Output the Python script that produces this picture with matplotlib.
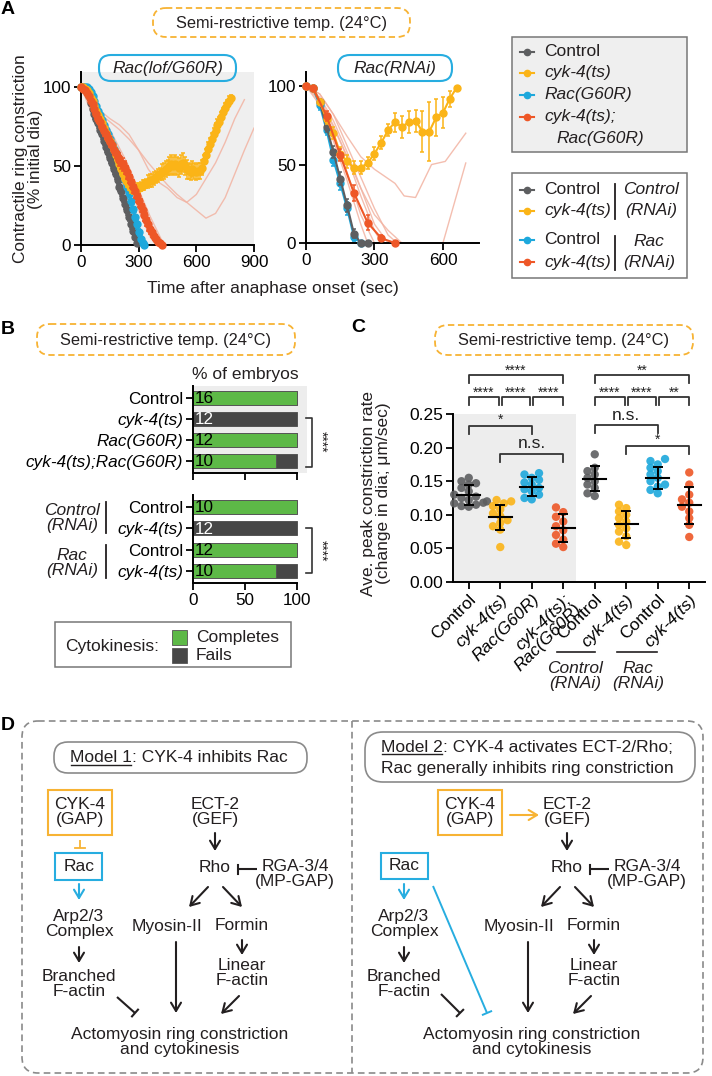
import numpy as np
import matplotlib
matplotlib.use('Agg')
import matplotlib.pyplot as plt
from matplotlib.patches import FancyBboxPatch, Rectangle

plt.rcParams['font.family'] = ['Liberation Sans', 'DejaVu Sans']
plt.rcParams['font.size'] = 12
plt.rcParams['axes.linewidth'] = 1.4

# ------------------------------------------------------------------ DATA
# Panel A, left: Rac(lof/G60R)  (time in s, % initial diameter)
tA_ctrl = list(range(0, 300, 10))
A_ctrl = [100, 100, 99, 97, 94, 90, 86, 83, 80, 77, 73, 70, 66, 62, 59, 55, 52, 48, 45, 41,
          37, 34, 30, 26, 22, 18, 13, 9, 5, 1]
A_ctrl_err = [0, 0, 1, 1, 2, 2, 2, 3, 3, 3, 3, 3, 3, 3, 3, 3, 3, 3, 3, 3,
              3, 3, 3, 3, 3, 3, 3, 2, 2, 1]
tA_rac = list(range(0, 340, 10))
A_rac = [100, 100, 100, 100, 99, 97, 94, 91, 88, 85, 82, 79, 76, 73, 70, 67, 64, 61, 58, 55,
         52, 49, 45, 41, 37, 33, 28, 23, 18, 13, 8, 4, 1, 0]
A_rac_err = [0, 0, 0, 1, 1, 2, 2, 2, 3, 3, 3, 3, 3, 3, 3, 3, 3, 3, 3, 3,
             3, 3, 3, 3, 3, 3, 3, 3, 3, 3, 2, 2, 1, 0]
tA_dbl = list(range(0, 430, 10))
A_dbl = [100, 99, 98, 96, 94, 91, 89, 86, 83, 80, 78, 75, 72, 70, 68, 65, 63, 60, 58, 56,
         54, 52, 51, 49, 46, 43, 40, 37, 34, 31, 28, 25, 22, 19, 16, 13, 10, 8, 6, 4,
         2, 1, 0]
A_dbl_err = [0, 1, 1, 2, 2, 2, 3, 3, 3, 3, 3, 3, 3, 3, 3, 3, 3, 3, 3, 3,
             4, 4, 4, 4, 4, 4, 4, 4, 4, 4, 4, 4, 4, 4, 4, 4, 3, 3, 3, 2,
             2, 1, 0]
tA_cyk = list(range(0, 790, 10))
A_cyk = [100, 100, 99, 98, 96, 93, 91, 88, 85, 82,
         80, 77, 74, 71, 68, 66, 63, 60, 57, 54,
         51, 48, 45, 42, 40, 38, 36, 35, 35, 36,
         36, 37, 38, 38, 39, 40, 41, 41, 42, 43,
         44, 45, 46, 47, 48, 49, 50, 51, 50, 51,
         50, 49, 51, 52, 50, 48, 47, 46, 48, 47,
         46, 47, 47, 49, 53, 57, 61, 64, 67, 70,
         73, 76, 78, 81, 84, 87, 89, 91, 93]
A_cyk_err = [0, 1, 1, 2, 2, 2, 2, 2, 2, 2,
             2, 2, 2, 2, 3, 3, 3, 3, 3, 3,
             3, 3, 3, 3, 3, 3, 3, 3, 3, 3,
             3, 3, 3, 3, 3, 4, 4, 4, 4, 4,
             4, 4, 5, 5, 5, 5, 6, 6, 6, 6,
             6, 6, 6, 6, 6, 6, 5, 5, 5, 5,
             5, 5, 5, 5, 4, 4, 4, 4, 4, 4,
             4, 4, 3, 3, 3, 3, 3, 3, 2]
# individual cyk-4(ts);Rac(G60R) traces (thin lines)
A_tr_t = [[0, 60, 120, 180, 240, 300, 340],
          [0, 60, 120, 180, 240, 300, 360, 390],
          [0, 60, 120, 180, 240, 300, 360, 420, 440],
          [0, 50, 100, 150, 200, 250, 300],
          [0, 50, 100, 150, 200, 250, 300, 350, 400, 450, 500, 550, 600, 650, 700, 750, 800, 850],
          [0, 50, 100, 150, 200, 250, 300, 350, 400, 450, 500, 550, 600, 650, 700, 750, 800, 850, 900]]
A_tr_v = [[100, 90, 72, 52, 30, 8, 0],
          [100, 88, 75, 60, 42, 22, 5, 0],
          [100, 92, 80, 66, 52, 35, 18, 3, 0],
          [100, 85, 70, 55, 38, 18, 0],
          [100, 95, 85, 80, 76, 70, 60, 48, 40, 36, 30, 27, 32, 42, 52, 65, 80, 92],
          [100, 93, 83, 78, 73, 67, 60, 52, 45, 38, 32, 27, 22, 17, 20, 30, 45, 60, 74]]

# Panel A, right: Rac(RNAi)
tR_ctrl = [0, 30, 60, 90, 120, 150, 180, 210, 240, 270]
R_ctrl = [100, 99, 90, 74, 58, 41, 24, 6, 0, 0]
R_ctrl_err = [0, 1, 2, 3, 4, 4, 4, 3, 0, 0]
tR_rac = [0, 30, 60, 90, 120, 150, 180, 210, 240]
R_rac = [100, 99, 88, 72, 53, 38, 22, 4, 0]
R_rac_err = [0, 1, 3, 3, 4, 4, 4, 3, 0]
tR_cyk = [0, 30, 60, 90, 120, 150, 180, 210, 240, 270, 300, 330, 360, 390, 420, 450, 480,
          510, 540, 570, 600, 630, 660]
R_cyk = [100, 99, 90, 79, 70, 57, 52, 48, 48, 51, 57, 64, 72, 77, 74, 77, 78, 71, 71, 80, 83, 92, 99]
R_cyk_err = [0, 1, 2, 3, 4, 4, 4, 4, 4, 4, 4, 4, 4, 6, 7, 7, 7, 13, 19, 12, 10, 5, 0]
tR_dbl = [0, 30, 90, 150, 210, 270, 330, 390]
R_dbl = [100, 99, 81, 56, 32, 13, 3, 0]
R_dbl_err = [0, 1, 3, 4, 5, 5, 2, 0]
R_tr_t = [[0, 60, 120, 180, 240, 300],
          [0, 60, 120, 180, 240, 300, 360],
          [0, 60, 120, 180, 240, 300, 360, 400],
          [0, 60, 120, 180, 240, 270],
          [0, 60, 120, 180, 240, 300, 330],
          [0, 60, 120, 180, 240, 300, 390, 430, 480, 550, 610, 700],
          [0, 60, 120, 180, 240, 300, 360, 420, 600, 700]]
R_tr_v = [[100, 92, 70, 45, 18, 0],
          [100, 93, 78, 58, 35, 12, 0],
          [100, 95, 82, 62, 42, 22, 5, 0],
          [100, 88, 65, 40, 12, 0],
          [100, 90, 74, 55, 30, 8, 0],
          [100, 95, 82, 68, 55, 47, 38, 30, 29, 50, 52, 70],
          [100, 92, 75, 55, 35, 18, 8, 0, 0, 51]]

# Panel B
B_top_labels = ['Control', 'cyk-4(ts)', 'Rac(G60R)', 'cyk-4(ts);Rac(G60R)']
B_top_complete = [100, 0, 100, 80]
B_top_n = [16, 12, 12, 10]
B_bot_labels = ['Control', 'cyk-4(ts)', 'Control', 'cyk-4(ts)']
B_bot_complete = [100, 0, 100, 80]
B_bot_n = [10, 12, 12, 10]

# Panel C (um/sec)
C_labels = ['Control', 'cyk-4(ts)', 'Rac(G60R)', 'cyk-4(ts);\nRac(G60R)',
            'Control', 'cyk-4(ts)', 'Control', 'cyk-4(ts)']
C_vals = [
    [0.155, 0.150, 0.147, 0.145, 0.140, 0.135, 0.130, 0.127, 0.125, 0.122, 0.120, 0.118,
     0.117, 0.115, 0.113, 0.112],
    [0.122, 0.120, 0.117, 0.113, 0.108, 0.102, 0.098, 0.092, 0.088, 0.083, 0.078, 0.052],
    [0.162, 0.160, 0.155, 0.152, 0.148, 0.145, 0.140, 0.138, 0.135, 0.130, 0.125, 0.123],
    [0.111, 0.104, 0.097, 0.090, 0.083, 0.077, 0.070, 0.063, 0.057, 0.052],
    [0.190, 0.170, 0.165, 0.160, 0.155, 0.150, 0.145, 0.140, 0.132, 0.128],
    [0.115, 0.110, 0.105, 0.100, 0.095, 0.090, 0.085, 0.080, 0.075, 0.068, 0.060, 0.055],
    [0.183, 0.180, 0.175, 0.170, 0.165, 0.160, 0.155, 0.150, 0.145, 0.142, 0.137, 0.132],
    [0.163, 0.145, 0.130, 0.123, 0.118, 0.112, 0.105, 0.095, 0.085, 0.067]]
C_mean = [0.129, 0.096, 0.142, 0.080, 0.154, 0.086, 0.155, 0.114]
C_sd = [0.015, 0.019, 0.014, 0.021, 0.019, 0.020, 0.016, 0.028]

# ------------------------------------------------------------------ STYLE
GRAY = '#5d5e60'
YEL = '#fbb417'
CYAN = '#1da8dc'
RED = '#ee5727'
PINK = '#f2b3a2'
GREEN = '#5db947'
DARK = '#474747'
C_colors = [GRAY, YEL, CYAN, RED, GRAY, YEL, CYAN, RED]

W, H = 712, 1076
fig = plt.figure(figsize=(W / 100, H / 100), dpi=100)


def add_ax(l, t, r, b, **kw):
    return fig.add_axes([l / W, 1 - b / H, (r - l) / W, (b - t) / H], **kw)


def style_ax(ax, fs=12.3):
    for s in ['top', 'right']:
        ax.spines[s].set_visible(False)
    ax.tick_params(labelsize=fs, length=5, width=1.3, pad=2)


def series(ax, t, v, e, c, ms, z):
    cont = ax.errorbar(t, v, yerr=e, color=c, marker='o', ms=ms, lw=1.5,
                       capsize=1.6, elinewidth=1.1, capthick=1.1, zorder=z)
    for a in cont.get_children():
        a.set_clip_on(False)

# ---------------- Panel A left
axL = add_ax(81, 72, 254, 245)
axL.set_facecolor('#efefef')
for t, v in zip(A_tr_t, A_tr_v):
    axL.plot(t, v, color=PINK, lw=1.0, alpha=0.85, zorder=1)
series(axL, tA_ctrl, A_ctrl, A_ctrl_err, GRAY, 5, 3)
series(axL, tA_rac, A_rac, A_rac_err, CYAN, 5, 4)
series(axL, tA_cyk, A_cyk, A_cyk_err, YEL, 5, 5)
series(axL, tA_dbl, A_dbl, A_dbl_err, RED, 5, 6)
axL.set_xlim(0, 900)
axL.set_ylim(0, 109.5)
axL.set_xticks([0, 300, 600, 900])
axL.set_yticks([0, 50, 100])
style_ax(axL)

# ---------------- Panel A right
axR = add_ax(306, 72, 479, 243)
axR.patch.set_alpha(0)
for t, v in zip(R_tr_t, R_tr_v):
    axR.plot(t, v, color=PINK, lw=1.0, alpha=0.85, zorder=1)
series(axR, tR_ctrl, R_ctrl, R_ctrl_err, GRAY, 5, 4)
series(axR, tR_rac, R_rac, R_rac_err, CYAN, 5, 3)
series(axR, tR_cyk, R_cyk, R_cyk_err, YEL, 5, 5)
series(axR, tR_dbl, R_dbl, R_dbl_err, RED, 5, 6)
axR.set_xlim(0, 758)
axR.set_ylim(0, 109)
axR.set_xticks([0, 300, 600])
axR.set_yticks([0, 50, 100])
style_ax(axR)

# ---------------- Panel B


def bars(ax, complete, ns, labels):
    y = np.arange(len(complete))
    comp = np.array(complete, float)
    has = comp > 0
    ax.barh(y[has], comp[has], height=0.66, color=GREEN, edgecolor='#555555', lw=0.7, zorder=2)
    ax.barh(y, 100 - comp, left=comp, height=0.66, color=DARK, edgecolor='#555555', lw=0.7, zorder=2)
    for yi, c, n in zip(y, comp, ns):
        ax.text(1.5, yi + 0.03, str(n), va='center', ha='left', fontsize=12.3,
                color='black' if c > 0 else 'white', zorder=3)
    ax.set_yticks(y)
    ax.set_yticklabels(labels)
    for lab, txt in zip(ax.get_yticklabels(), labels):
        if txt != 'Control':
            lab.set_style('italic')
    ax.set_xlim(0, 109.6)
    ax.set_ylim(3.57, -0.57)
    ax.set_xticks([0, 50, 100])
    ax.spines['bottom'].set_bounds(0, 100)
    style_ax(ax)


axB1 = add_ax(193, 386, 307, 473)
axB1.set_facecolor('#ededed')
bars(axB1, B_top_complete, B_top_n, B_top_labels)
axB1.set_xticklabels([])
axB2 = add_ax(193, 495, 307, 583)
axB2.patch.set_alpha(0)
bars(axB2, B_bot_complete, B_bot_n, B_bot_labels)

# ---------------- Panel C
axC = add_ax(453, 414, 705, 582)
axC.set_xlim(-0.5, 7.5)
axC.set_ylim(0, 0.25)
axC.axvspan(-0.5, 3.4, color='#ededed', zorder=0, lw=0)


def swarm(vals, xc, xs=31.43, ys=672.0, d=6.6):
    placed = []
    res = [0.0] * len(vals)
    order = sorted(range(len(vals)), key=lambda i: vals[i])
    cands = [0, -1, 1, -2, 2, -3, 3, -4, 4, -5, 5]
    for i in order:
        yy = vals[i] * ys
        xx = 0.0
        for c in cands:
            xx = c * d * 0.55
            if all((xx - px) ** 2 + (yy - py) ** 2 >= d * d for px, py in placed):
                break
        placed.append((xx, yy))
        res[i] = xc + xx / xs
    return res


for i, (vals, col) in enumerate(zip(C_vals, C_colors)):
    xs = swarm(vals, i)
    axC.scatter(xs, vals, s=36, color=col, edgecolors='none', zorder=3, alpha=0.9, clip_on=False)
    m, sd = C_mean[i], C_sd[i]
    axC.plot([i - 0.36, i + 0.36], [m, m], color='k', lw=1.5, zorder=4)
    axC.errorbar(i, m, yerr=sd, color='k', capsize=3.5, capthick=1.4, elinewidth=1.4, zorder=4)
axC.set_xticks(range(8))
axC.set_xticklabels(C_labels, rotation=45, ha='right', rotation_mode='anchor', fontsize=12.5,
                    linespacing=0.95)
for lab, txt in zip(axC.get_xticklabels(), C_labels):
    if txt != 'Control':
        lab.set_style('italic')
axC.set_yticks([0, 0.05, 0.10, 0.15, 0.20, 0.25])
axC.set_yticklabels(['0.00', '0.05', '0.10', '0.15', '0.20', '0.25'])
style_ax(axC, 12.5)


def cbr(a, b, y, txt, fs, ty, leg=0.012):
    axC.plot([a, a, b, b], [y - leg, y, y, y - leg], color='#333333', lw=1.3, clip_on=False)
    axC.text((a + b) / 2, ty, txt, ha='center', va='baseline', fontsize=fs, clip_on=False,
             color='#222222')


g = 0.05
cbr(0, 3, 0.308, '****', 10, 0.309)
cbr(4, 7, 0.308, '**', 10, 0.309)
cbr(0, 1 - g, 0.275, '****', 10, 0.276)
cbr(1 + g, 2 - g, 0.275, '****', 10, 0.276)
cbr(2 + g, 3, 0.275, '****', 10, 0.276)
cbr(4, 5 - g, 0.275, '****', 10, 0.276)
cbr(5 + g, 6 - g, 0.275, '****', 10, 0.276)
cbr(6 + g, 7, 0.275, '**', 10, 0.276)
cbr(0, 2, 0.232, '*', 10, 0.236)
cbr(1, 3, 0.190, 'n.s.', 12.5, 0.199)
cbr(4, 6, 0.234, 'n.s.', 12.5, 0.241)
cbr(5, 7, 0.202, '*', 10, 0.206)

# ------------------------------------------------------------------ overlay
ov = fig.add_axes([0, 0, 1, 1], zorder=10)
ov.set_xlim(0, W)
ov.set_ylim(H, 0)
ov.axis('off')
ov.patch.set_visible(False)

TXT = '#231f20'


def pill(x0, y0, x1, y1, ec, ls='-', lw=1.3, r=None, fc='none'):
    h = y1 - y0
    if r is None:
        r = h / 2
    ov.add_patch(FancyBboxPatch((x0, y0), x1 - x0, h, boxstyle=f"round,pad=0,rounding_size={r}",
                                ec=ec, fc=fc, lw=lw, ls=ls))


def T(x, y, s, fs=12.5, ha='center', va='center', **kw):
    return ov.text(x, y, s, fontsize=fs, ha=ha, va=va, color=kw.pop('color', TXT), **kw)


# panel letters
for lt, (x, y) in {'A': (8, 10), 'B': (8, 330), 'C': (358, 328), 'D': (8, 725)}.items():
    T(x, y, lt, fs=14, weight='bold', color='black')

# temperature pills
for (x0, y0, x1, y1) in [(153, 8, 410, 37), (37, 324, 295, 355), (435, 325, 693, 355)]:
    pill(x0, y0, x1, y1, '#f7b334', ls=(0, (3.5, 2)), lw=1.3, r=13)
    T((x0 + x1) / 2, (y0 + y1) / 2 + 1, 'Semi-restrictive temp. (24\u00b0C)', fs=11.8)

# genotype pills
pill(99, 55, 236, 81, '#27ade0', lw=1.5, r=12)
T(168, 68.5, 'Rac(lof/G60R)', style='italic')
pill(338, 55, 452, 81, '#27ade0', lw=1.5, r=12)
T(395, 68.5, 'Rac(RNAi)', style='italic')

# axis labels A
T(28, 159, 'Contractile ring constriction\n(% initial dia)', fs=12.4, rotation=90, linespacing=0.95)
T(273, 288, 'Time after anaphase onset (sec)', fs=12.6)

# legends A
ov.add_patch(Rectangle((512, 37), 175, 115, fc='#efefef', ec='#777777', lw=1.1))
ov.add_patch(Rectangle((512, 173), 175, 105, fc='white', ec='#777777', lw=1.1))


def icon(y, c):
    ov.plot([520, 534], [y, y], color=c, lw=1.5)
    ov.plot(527, y, 'o', color=c, ms=4.5)


for y, s, c, it in [(52, 'Control', GRAY, False), (73, 'cyk-4(ts)', YEL, True),
                    (95, 'Rac(G60R)', CYAN, True), (117, 'cyk-4(ts);', RED, True)]:
    icon(y, c)
    T(544, y, s, ha='left', style='italic' if it else 'normal')
T(556, 138, 'Rac(G60R)', ha='left', style='italic')
for y, s, c, it in [(190, 'Control', GRAY, False), (211, 'cyk-4(ts)', YEL, True),
                    (240, 'Control', CYAN, False), (262, 'cyk-4(ts)', RED, True)]:
    icon(y, c)
    T(544, y, s, ha='left', style='italic' if it else 'normal')
ov.plot([615, 615], [184, 219], color=TXT, lw=1.3)
ov.plot([615, 615], [236, 270], color=TXT, lw=1.3)
T(651, 190, 'Control', style='italic')
T(651, 211, '(RNAi)', style='italic')
T(649, 241, 'Rac', style='italic')
T(649, 262, '(RNAi)', style='italic')

# panel B extras
T(245, 375, '% of embryos', fs=12.5)
T(72, 518, 'Control\n(RNAi)', style='italic', linespacing=1.05)
T(72, 563, 'Rac\n(RNAi)', style='italic', linespacing=1.05)
ov.plot([106, 106], [502, 533], color=TXT, lw=1.3)
ov.plot([106, 106], [545, 578], color=TXT, lw=1.3)
for (ya, yb, yc) in [(418, 467, 442), (528, 573, 551)]:
    ov.plot([306, 312, 312, 306], [ya, ya, yb, yb], color='#333333', lw=1.2)
    T(321, yc, '****', fs=10, rotation=270)
ov.add_patch(Rectangle((55, 622), 236, 45, fc='white', ec='#777777', lw=1.1))
T(65, 647, 'Cytokinesis:', ha='left')
ov.add_patch(Rectangle((172, 630), 15, 15, fc=GREEN, ec='#555555', lw=0.6))
ov.add_patch(Rectangle((172, 648), 15, 15, fc=DARK, ec='#555555', lw=0.6))
T(196, 637.5, 'Completes', ha='left')
T(196, 656, 'Fails', ha='left')

# panel C extras
T(376, 493, 'Ave. peak constriction rate\n(change in dia; \u03bcm/sec)', fs=12.5, rotation=90,
  linespacing=1.0)
ov.plot([557, 595], [652, 652], color=TXT, lw=1.2)
ov.plot([617, 657], [652, 652], color=TXT, lw=1.2)
T(575, 676, 'Control\n(RNAi)', style='italic', linespacing=0.95)
T(638, 676, 'Rac\n(RNAi)', style='italic', linespacing=0.95)

# ------------------------------------------------------------------ Panel D
pill(22, 721, 703, 1073, '#8a8a8a', ls=(0, (4, 2.5)), lw=1.2, r=16)
ov.plot([352, 352], [721, 1073], color='#8a8a8a', lw=1.2, ls=(0, (4, 2.5)))
pill(54, 742, 307, 773, '#8a8a8a', lw=1.2, r=14)
pill(365, 732, 695, 782, '#8a8a8a', lw=1.2, r=18)

fig.canvas.draw()
rend = fig.canvas.get_renderer()


def underlined(x, y, head, rest, fs=12.5, off=8):
    t1 = T(x, y, head, fs=fs, ha='left')
    bb = t1.get_window_extent(renderer=rend)
    x1 = bb.x1
    T(x1, y, rest, fs=fs, ha='left')
    ov.plot([x + 1, x1 - 1], [y + off, y + off], color=TXT, lw=1.0)


underlined(70, 757, 'Model 1', ': CYK-4 inhibits Rac')
underlined(381, 747, 'Model 2', ': CYK-4 activates ECT-2/Rho;', off=7)
T(381, 768, 'Rac generally inhibits ring constriction', ha='left')

ORG = '#f7b334'
BLU = '#27ade0'


def box(x0, y0, x1, y1, c):
    ov.add_patch(Rectangle((x0, y0), x1 - x0, y1 - y0, fill=False, ec=c, lw=1.5))


def arrow(x1, y1, x2, y2, c=TXT, lw=1.5):
    ov.annotate('', xy=(x2, y2), xytext=(x1, y1),
                arrowprops=dict(arrowstyle='->,head_length=0.5,head_width=0.3', color=c, lw=lw,
                                shrinkA=0, shrinkB=0))


def inhibit(x1, y1, x2, y2, c=TXT, bar=9, lw=1.5):
    ov.plot([x1, x2], [y1, y2], color=c, lw=lw, solid_capstyle='butt')
    dx, dy = x2 - x1, y2 - y1
    n = np.hypot(dx, dy)
    px, py = -dy / n * bar / 2, dx / n * bar / 2
    ov.plot([x2 - px, x2 + px], [y2 - py, y2 + py], color=c, lw=lw)


LS = 1.05
for ox, model in [(0, 1), (352, 2)]:
    ex = 215 if model == 1 else 567
    T(ex, 812, 'ECT-2\n(GEF)', linespacing=LS)
    arrow(ex, 833, ex, 851)
    T(ex, 867, 'Rho')
    inhibit(ex + 42, 869, ex + 23, 869, bar=9)
    T(ex + 80, 874, 'RGA-3/4\n(MP-GAP)', linespacing=LS)
    arrow(ex - 7, 887, ex - 26, 907)
    arrow(ex + 8, 887, ex + 27, 907)
    T(ex - 48, 926, 'Myosin-II')
    T(ex + 27, 926, 'Formin')
    arrow(ex + 27, 940, ex + 27, 955)
    T(ex + 27, 973, 'Linear\nF-actin', linespacing=LS)
    arrow(ex + 24, 996, ex + 6, 1014)
    arrow(ex - 39, 942, ex - 39, 1013)
    T(ex - 35, 1042, 'Actomyosin ring constriction\nand cytokinesis', linespacing=LS)

# Model 1 left column
box(48, 790, 112, 835, ORG)
T(80, 812, 'CYK-4\n(GAP)', linespacing=LS)
inhibit(80, 840, 80, 848, c=ORG, bar=10, lw=1.3)
box(55, 853, 102, 880, BLU)
T(79, 866.5, 'Rac')
arrow(79, 884, 79, 900, c=BLU)
T(79, 924, 'Arp2/3\nComplex', linespacing=LS)
arrow(79, 947, 79, 963)
T(79, 984, 'Branched\nF-actin', linespacing=LS)
inhibit(117, 997, 135, 1013)

# Model 2 left column
box(438, 790, 502, 835, ORG)
T(470, 812, 'CYK-4\n(GAP)', linespacing=LS)
arrow(510, 815, 539, 815, c=ORG)
box(381, 853, 428, 879, BLU)
T(404, 866, 'Rac')
arrow(404, 884, 404, 900, c=BLU)
T(404, 924, 'Arp2/3\nComplex', linespacing=LS)
arrow(404, 947, 404, 963)
T(404, 984, 'Branched\nF-actin', linespacing=LS)
inhibit(441, 994, 460, 1013)
inhibit(433, 886, 487, 1013, c=BLU, lw=1.4)

fig.savefig('out.png', dpi=100)
